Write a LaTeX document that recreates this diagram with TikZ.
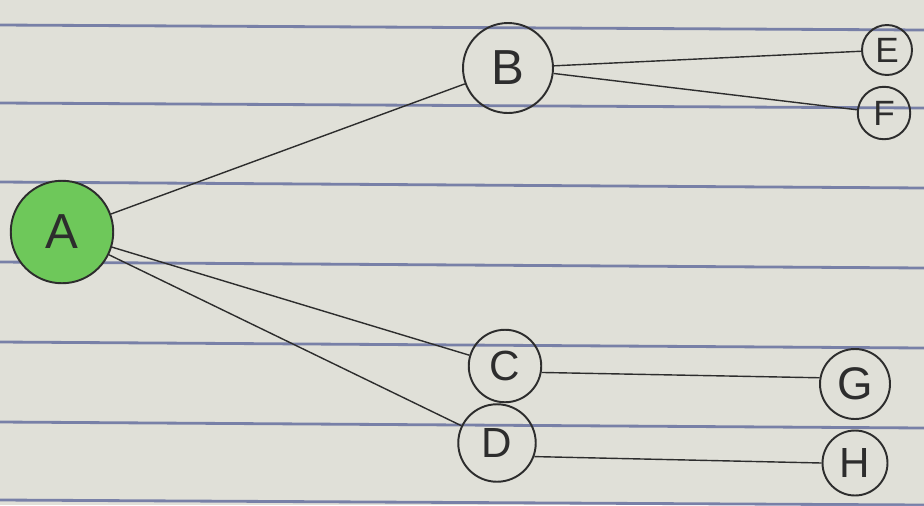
\documentclass[tikz,border=0pt]{standalone}
\usepackage{fontspec}
\setmainfont{Liberation Sans}
\definecolor{paper}{RGB}{224,224,216}
\definecolor{rule}{RGB}{95,105,155}
\definecolor{ink}{RGB}{45,45,45}
\definecolor{leaf}{RGB}{110,200,90}
\begin{document}
\begin{tikzpicture}[x=0.02cm,y=-0.02cm,
  vtx/.style={circle,draw=ink,line width=1.1pt,inner sep=0pt,text=ink,font=\fontsize{28}{32}\selectfont},
  edge/.style={draw=ink,line width=0.8pt},
  ruled/.style={draw=rule,line width=1.6pt,opacity=0.8}]
\fill[paper] (0,0) rectangle (924,505);
\useasboundingbox (0,0) rectangle (924,505);
\foreach \ya/\yb in {25/30,103/108,182/188,262/268,342/348,422/428,500/505}
  \draw[ruled] (0,\ya) -- (924,\yb);
\node[vtx,fill=leaf,minimum size=2.05cm] (A) at (62,232) {A};
\node[vtx,minimum size=1.8cm] (B) at (508,68) {B};
\node[vtx,minimum size=1.0cm,font=\fontsize{20}{24}\selectfont] (E) at (887,50) {E};
\node[vtx,minimum size=1.05cm,font=\fontsize{20}{24}\selectfont] (F) at (884,113) {F};
\node[vtx,minimum size=1.45cm,font=\fontsize{24}{28}\selectfont] (C) at (505,366) {C};
\node[vtx,minimum size=1.55cm,font=\fontsize{24}{28}\selectfont] (D) at (497,443) {D};
\node[vtx,minimum size=1.4cm,font=\fontsize{26}{30}\selectfont] (G) at (855,384) {G};
\node[vtx,minimum size=1.3cm,font=\fontsize{24}{28}\selectfont] (H) at (855,463) {H};
\draw[edge] (A) -- (B);
\draw[edge] (A) -- (C);
\draw[edge] (A) -- (D);
\draw[edge] (B) -- (E);
\draw[edge] (B) -- (F);
\draw[edge] (C.-10) -- (G.170);
\draw[edge] (D.-20) -- (H.west);
\end{tikzpicture}
\end{document}
